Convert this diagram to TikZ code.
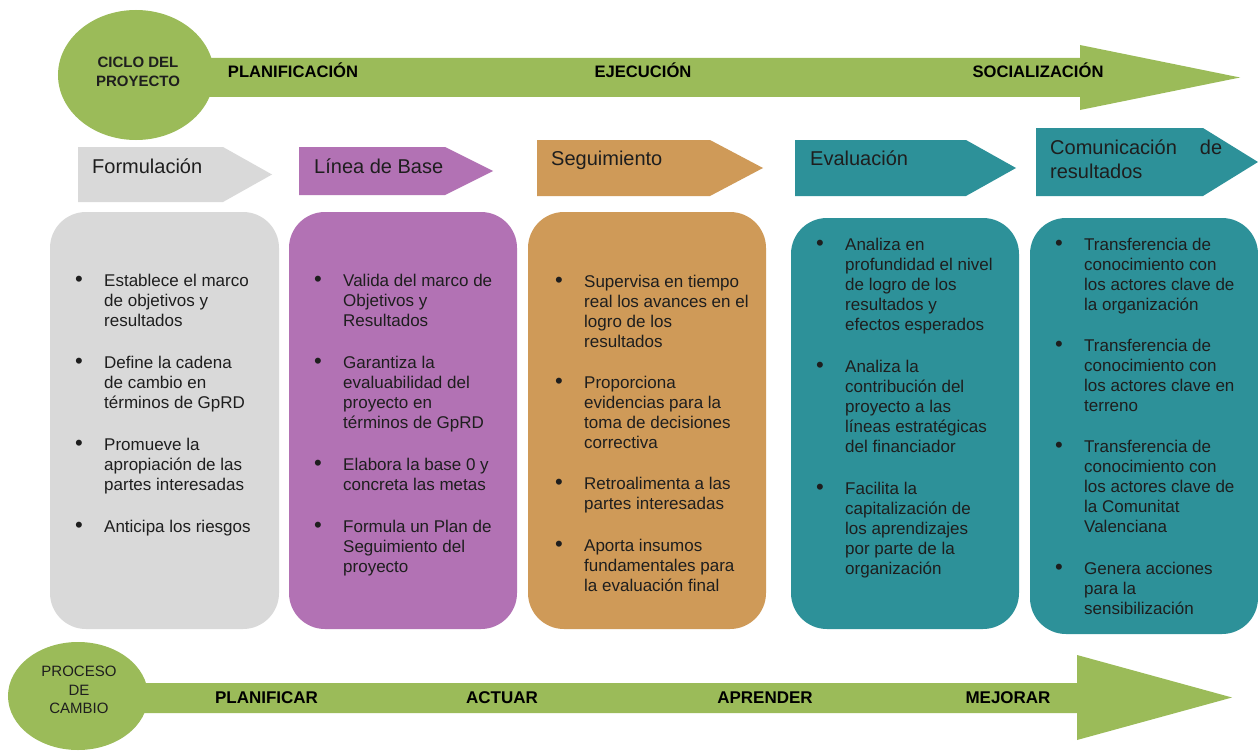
\documentclass[tikz,border=0pt]{standalone}
\usepackage{fontspec}
\setmainfont{Liberation Sans}
\usetikzlibrary{shapes.geometric}
\definecolor{vgreen}{HTML}{9BBB59}
\definecolor{vgrey}{HTML}{D9D9D9}
\definecolor{vpurple}{HTML}{B272B4}
\definecolor{vorange}{HTML}{CF9A58}
\definecolor{vteal}{HTML}{2D9199}
\definecolor{vtext}{HTML}{1E1E1E}
\newcommand{\bl}{\raisebox{-0.6bp}{\scalebox{1.3}{\textbullet}}}
\tikzset{
  bigarrow/.style={fill=vgreen},
  oval/.style={ellipse, fill=vgreen, inner sep=0pt},
  ovaltext/.style={align=center, text=vtext, inner sep=0pt},
  phase/.style={font=\fontsize{16.6bp}{19bp}\selectfont\bfseries, text=black, inner sep=0pt, anchor=base},
  chevtext/.style={font=\fontsize{20bp}{24bp}\selectfont, text=vtext, inner sep=0pt, anchor=base west},
  card/.style={rounded corners=36bp},
  list/.style={font=\fontsize{17bp}{20bp}\selectfont, text=vtext, inner sep=0pt, anchor=base west}
}
\begin{document}
\begin{tikzpicture}[x=1bp,y=-1bp]
\useasboundingbox (0,0) rectangle (1258,751);
\fill[white] (0,0) rectangle (1258,751);

% top arrow
\fill[bigarrow] (190,58) -- (1080,58) -- (1080,45) -- (1240,77.5) -- (1080,110) -- (1080,97) -- (190,97) -- cycle;
\node[oval, minimum width=156bp, minimum height=130bp] (cyc) at (136,75) {};
\node[ovaltext, font=\fontsize{15bp}{19bp}\selectfont\bfseries] (cyct) at (138,72) {CICLO DEL\\PROYECTO};
\node[phase] (p1) at (293,78) {PLANIFICACIÓN};
\node[phase] (p2) at (643,78) {EJECUCIÓN};
\node[phase] (p3) at (1038,78) {SOCIALIZACIÓN};

% bottom arrow
\fill[bigarrow] (60,683) -- (1077,683) -- (1077,655) -- (1232,697.5) -- (1077,740) -- (1077,713) -- (60,713) -- cycle;
\node[oval, minimum width=140bp, minimum height=108bp] (pro) at (78,696) {};
\node[ovaltext, font=\fontsize{15bp}{18.5bp}\selectfont] (prot) at (79,690) {PROCESO\\DE\\CAMBIO};
\node[phase, font=\fontsize{17bp}{20bp}\selectfont\bfseries] (q1) at (266.5,703) {PLANIFICAR};
\node[phase, font=\fontsize{17bp}{20bp}\selectfont\bfseries] (q2) at (502,703) {ACTUAR};
\node[phase, font=\fontsize{17bp}{20bp}\selectfont\bfseries] (q3) at (765,703) {APRENDER};
\node[phase, font=\fontsize{17bp}{20bp}\selectfont\bfseries] (q4) at (1008,703) {MEJORAR};

% chevrons
\fill[vgrey] (78,147) -- (223,147) -- (272,174.5) -- (223,202) -- (78,202) -- cycle;
\fill[vpurple] (299,147) -- (445,147) -- (493,171) -- (445,195) -- (299,195) -- cycle;
\fill[vorange] (537,140) -- (710,140) -- (763,168) -- (710,196) -- (537,196) -- cycle;
\fill[vteal] (795,140) -- (966,140) -- (1016,168) -- (966,196) -- (795,196) -- cycle;
\fill[vteal] (1036,128) -- (1203,128) -- (1258,162) -- (1203,196) -- (1036,196) -- cycle;
\node[chevtext] (c1) at (92,173) {Formulación};
\node[chevtext] (c2) at (314,173) {Línea de Base};
\node[chevtext] (c3) at (551,165) {Seguimiento};
\node[chevtext] (c4) at (810,165) {Evaluación};
\node[chevtext, align=left] (c5) at (1050,178) {\makebox[172bp][s]{Comunicación\hfill de}\\[-0.2bp]resultados};

% cards
\fill[vgrey, card] (50,212) rectangle (279,629);
\fill[vpurple, card] (289,212) rectangle (517,629);
\fill[vorange, card] (528,212) rectangle (766,629);
\fill[vteal, card] (791,218) rectangle (1019,629);
\fill[vteal, card] (1030,218) rectangle (1258,634);

\node[list] (l1) at (75,286) {\begin{tabular}[t]{@{}p{29bp}@{}l@{}}
\bl & Establece el marco\\ & de objetivos y\\ & resultados\\[22bp]
\bl & Define la cadena\\ & de cambio en\\ & términos de GpRD\\[22bp]
\bl & Promueve la\\ & apropiación de las\\ & partes interesadas\\[22bp]
\bl & Anticipa los riesgos
\end{tabular}};

\node[list] (l2) at (314,286) {\begin{tabular}[t]{@{}p{29bp}@{}l@{}}
\bl & Valida del marco de\\ & Objetivos y\\ & Resultados\\[22bp]
\bl & Garantiza la\\ & evaluabilidad del\\ & proyecto en\\ & términos de GpRD\\[22bp]
\bl & Elabora la base 0 y\\ & concreta las metas\\[22bp]
\bl & Formula un Plan de\\ & Seguimiento del\\ & proyecto
\end{tabular}};

\node[list] (l3) at (555,287) {\begin{tabular}[t]{@{}p{29bp}@{}l@{}}
\bl & Supervisa en tiempo\\ & real los avances en el\\ & logro de los\\ & resultados\\[21bp]
\bl & Proporciona\\ & evidencias para la\\ & toma de decisiones\\ & correctiva\\[21bp]
\bl & Retroalimenta a las\\ & partes interesadas\\[22bp]
\bl & Aporta insumos\\ & fundamentales para\\ & la evaluación final
\end{tabular}};

\node[list] (l4) at (816,250) {\begin{tabular}[t]{@{}p{29bp}@{}l@{}}
\bl & Analiza en\\ & profundidad el nivel\\ & de logro de los\\ & resultados y\\ & efectos esperados\\[22bp]
\bl & Analiza la\\ & contribución del\\ & proyecto a las\\ & líneas estratégicas\\ & del financiador\\[22bp]
\bl & Facilita la\\ & capitalización de\\ & los aprendizajes\\ & por parte de la\\ & organización
\end{tabular}};

\node[list] (l5) at (1055,250) {\begin{tabular}[t]{@{}p{29bp}@{}l@{}}
\bl & Transferencia de\\ & conocimiento con\\ & los actores clave de\\ & la organización\\[21bp]
\bl & Transferencia de\\ & conocimiento con\\ & los actores clave en\\ & terreno\\[21bp]
\bl & Transferencia de\\ & conocimiento con\\ & los actores clave de\\ & la Comunitat\\ & Valenciana\\[22bp]
\bl & Genera acciones\\ & para la\\ & sensibilización
\end{tabular}};
\end{tikzpicture}
\end{document}
